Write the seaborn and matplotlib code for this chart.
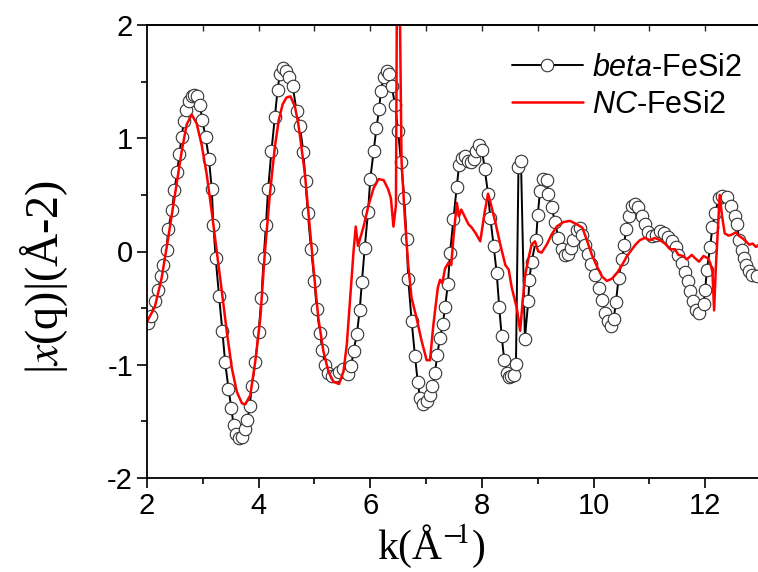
import numpy as np
import seaborn as sns
import matplotlib.pyplot as plt
from matplotlib.font_manager import FontProperties
from matplotlib.ticker import MultipleLocator

# beta-FeSi2 (open circles)
k_beta = [2.01, 2.07, 2.15, 2.20, 2.25, 2.29, 2.35, 2.38, 2.45, 2.49, 2.54, 2.58, 2.62, 2.66, 2.70,
          2.76, 2.81, 2.85, 2.89, 2.95, 2.99, 3.05, 3.11, 3.16, 3.19, 3.23, 3.29, 3.35, 3.40, 3.46,
          3.51, 3.55, 3.59, 3.65, 3.71, 3.76, 3.80, 3.84, 3.88, 3.94, 4.00, 4.05, 4.09, 4.13, 4.17,
          4.23, 4.29, 4.34, 4.38, 4.44, 4.49, 4.55, 4.61, 4.68, 4.74, 4.80, 4.84, 4.88, 4.94, 5.00,
          5.04, 5.10, 5.14, 5.19, 5.24, 5.31, 5.38, 5.44, 5.52, 5.60, 5.66, 5.70, 5.76, 5.81, 5.85,
          5.90, 5.96, 6.00, 6.06, 6.11, 6.16, 6.19, 6.24, 6.30, 6.34, 6.385, 6.445, 6.50, 6.55, 6.61,
          6.65, 6.68, 6.74, 6.80, 6.85, 6.89, 6.95, 7.01, 7.07, 7.11, 7.16, 7.20, 7.25, 7.30, 7.34,
          7.39, 7.43, 7.49, 7.55, 7.59, 7.64, 7.70, 7.75, 7.81, 7.85, 7.89, 7.95, 8.00, 8.05, 8.11,
          8.15, 8.21, 8.265, 8.31, 8.355, 8.40, 8.45, 8.49, 8.53, 8.57, 8.61, 8.655, 8.70, 8.77, 8.83,
          8.85, 8.89, 8.97, 9.00, 9.04, 9.10, 9.16, 9.19, 9.25, 9.31, 9.37, 9.43, 9.48, 9.54, 9.60,
          9.64, 9.70, 9.76, 9.80, 9.85, 9.90, 9.96, 10.03, 10.10, 10.16, 10.21, 10.26, 10.32, 10.36,
          10.40, 10.45, 10.51, 10.55, 10.58, 10.63, 10.68, 10.75, 10.80, 10.87, 10.93, 10.98, 11.04,
          11.12, 11.19, 11.27, 11.33, 11.40, 11.47, 11.52, 11.59, 11.64, 11.69, 11.73, 11.78, 11.83,
          11.89, 11.97, 12.00, 12.03, 12.09, 12.13, 12.18, 12.24, 12.30, 12.39, 12.47, 12.53, 12.57,
          12.61, 12.66, 12.69, 12.73, 12.78, 12.84, 12.93]
chi_beta = [-0.63, -0.57, -0.44, -0.34, -0.22, -0.12, 0.01, 0.20, 0.37, 0.54, 0.70, 0.86, 1.01, 1.15, 1.25,
            1.33, 1.37, 1.38, 1.37, 1.29, 1.16, 1.01, 0.82, 0.55, 0.23, -0.06, -0.39, -0.70, -0.98, -1.21,
            -1.38, -1.53, -1.61, -1.65, -1.64, -1.57, -1.49, -1.36, -1.19, -0.98, -0.71, -0.41, -0.06, 0.23, 0.55,
            0.89, 1.19, 1.43, 1.57, 1.62, 1.59, 1.54, 1.46, 1.24, 1.11, 0.88, 0.62, 0.34, 0.02, -0.26,
            -0.51, -0.72, -0.87, -1.00, -1.07, -1.10, -1.09, -1.06, -1.04, -1.08, -1.01, -0.88, -0.73, -0.52, -0.27,
            0.03, 0.35, 0.64, 0.89, 1.09, 1.26, 1.42, 1.54, 1.59, 1.57, 1.46, 1.29, 1.06, 0.79, 0.47,
            0.11, -0.24, -0.61, -0.92, -1.15, -1.29, -1.35, -1.32, -1.27, -1.19, -1.07, -0.91, -0.76, -0.64, -0.49,
            -0.29, -0.01, 0.29, 0.57, 0.76, 0.83, 0.84, 0.80, 0.79, 0.82, 0.89, 0.94, 0.90, 0.73, 0.51,
            0.30, 0.05, -0.19, -0.49, -0.75, -0.96, -1.07, -1.11, -1.10, -1.09, -0.99, 0.75, 0.80, -0.77, -0.44,
            -0.25, -0.09, 0.10, 0.32, 0.53, 0.64, 0.63, 0.51, 0.39, 0.26, 0.12, 0.02, -0.03, -0.02, 0.03,
            0.10, 0.19, 0.21, 0.15, 0.06, -0.02, -0.11, -0.21, -0.32, -0.43, -0.54, -0.61, -0.66, -0.60,
            -0.45, -0.23, -0.07, 0.06, 0.20, 0.31, 0.40, 0.42, 0.39, 0.31, 0.24, 0.17, 0.14,
            0.15, 0.18, 0.16, 0.13, 0.09, 0.04, -0.03, -0.10, -0.18, -0.26, -0.35, -0.44, -0.52,
            -0.54, -0.46, -0.34, -0.16, 0.04, 0.22, 0.34, 0.47, 0.49, 0.48, 0.40, 0.31, 0.24,
            0.10, 0.01, -0.06, -0.12, -0.17, -0.21, -0.22]

# NC-FeSi2 (red line)
k_nc = [2.00, 2.14, 2.26, 2.38, 2.50, 2.62, 2.71, 2.80, 2.89, 2.98, 3.07, 3.16, 3.25, 3.34, 3.43,
        3.52, 3.61, 3.70, 3.76, 3.85, 3.94, 4.03, 4.11, 4.20, 4.29, 4.36, 4.43, 4.50, 4.57, 4.65,
        4.71, 4.77, 4.83, 4.89, 4.95, 5.01, 5.07, 5.16, 5.25, 5.34, 5.44, 5.52, 5.58, 5.64, 5.70,
        5.74, 5.78, 5.88, 5.97, 6.06, 6.15, 6.24, 6.32, 6.37, 6.415, 6.46, 6.48, 6.52, 6.56, 6.62,
        6.68, 6.74, 6.83, 6.92, 7.01, 7.07, 7.13, 7.21, 7.25, 7.29, 7.34, 7.40, 7.45, 7.49, 7.55,
        7.59, 7.63, 7.67, 7.76, 7.82, 7.89, 7.97, 8.05, 8.11, 8.165, 8.24, 8.33, 8.42, 8.48, 8.535,
        8.625, 8.685, 8.73, 8.775, 8.835, 8.89, 8.95, 9.01, 9.07, 9.16, 9.25, 9.34, 9.46, 9.58, 9.70,
        9.80, 9.88, 9.97, 10.06, 10.15, 10.24, 10.33, 10.42, 10.51, 10.60, 10.66, 10.75, 10.83, 10.92,
        11.01, 11.10, 11.19, 11.28, 11.37, 11.46, 11.52, 11.61, 11.67, 11.76, 11.82, 11.89, 11.97,
        12.05, 12.09, 12.13, 12.16, 12.19, 12.26, 12.30, 12.35, 12.42, 12.48, 12.55, 12.60, 12.66,
        12.73, 12.79, 12.85, 12.91, 12.96]
chi_nc = [-0.62, -0.49, -0.24, 0.12, 0.50, 0.88, 1.12, 1.21, 1.13, 0.94, 0.68, 0.35, 0.00, -0.35, -0.71,
          -1.03, -1.24, -1.34, -1.35, -1.27, -0.97, -0.59, -0.02, 0.50, 0.92, 1.16, 1.30, 1.36, 1.37, 1.28,
          1.13, 0.91, 0.68, 0.35, 0.03, -0.29, -0.59, -0.88, -1.06, -1.15, -1.17, -1.06, -0.82, -0.41, 0.00,
          0.22, 0.05, 0.22, 0.41, 0.56, 0.64, 0.63, 0.55, 0.47, 0.22, 0.41, 2.60, 2.60, 0.80, 0.29,
          -0.12, -0.41, -0.59, -0.79, -0.96, -0.96, -0.65, -0.32, -0.25, -0.28, -0.15, -0.10, -0.12, 0.12, 0.43,
          0.31, 0.37, 0.33, 0.24, 0.21, 0.16, 0.09, 0.35, 0.51, 0.41, 0.26, 0.06, -0.12, -0.16, -0.32,
          -0.50, -0.70, -0.44, -0.21, -0.06, 0.06, 0.09, 0.00, -0.01, 0.06, 0.15, 0.22, 0.26, 0.27, 0.24,
          0.21, 0.10, -0.03, -0.13, -0.22, -0.26, -0.24, -0.19, -0.12, -0.04, 0.00, 0.06, 0.10, 0.12,
          0.10, 0.12, 0.10, 0.07, 0.02, 0.02, -0.03, -0.04, -0.07, -0.03, -0.06, -0.09, -0.04,
          -0.06, -0.10, -0.18, -0.52, -0.15, 0.50, 0.32, 0.16, 0.14, 0.15, 0.17, 0.14, 0.12,
          0.09, 0.06, 0.07, 0.04, 0.06]

sns.set_style('ticks')
plt.rcParams['font.family'] = ['Liberation Sans', 'DejaVu Sans']
plt.rcParams['mathtext.fontset'] = 'custom'
plt.rcParams['mathtext.it'] = 'Liberation Sans:italic'
plt.rcParams['mathtext.rm'] = 'Liberation Sans'
plt.rcParams['axes.unicode_minus'] = False
plt.rcParams['text.color'] = 'black'
plt.rcParams['axes.labelcolor'] = 'black'

fig = plt.figure(figsize=(7.58, 5.72), dpi=100)
ax = fig.add_axes([147 / 758, 1 - 478 / 572, 614 / 758, 453 / 572])

sns.lineplot(x=k_beta, y=chi_beta, ax=ax, color='black', lw=1.4, marker='o', markersize=9,
             markerfacecolor='white', markeredgecolor='#333333', markeredgewidth=0.8,
             label=r'$\it{beta}$-FeSi2')
sns.lineplot(x=k_nc, y=chi_nc, ax=ax, color='#ff0000', lw=1.8, label=r'$\it{NC}$-FeSi2')

ax.set_xlim(2, 13)
ax.set_ylim(-2, 2)
ax.xaxis.set_major_locator(MultipleLocator(2))
ax.xaxis.set_minor_locator(MultipleLocator(1))
ax.yaxis.set_major_locator(MultipleLocator(1))
ax.yaxis.set_minor_locator(MultipleLocator(0.5))
ax.tick_params(which='major', direction='out', length=7, width=1.2, labelsize=21, pad=3,
               colors='black')
ax.tick_params(which='minor', direction='out', length=4, width=1.2, colors='black')
for s in ax.spines.values():
    s.set_linewidth(1.3)
    s.set_color('black')

top = ax.secondary_xaxis('top')
top.set_xticks(np.arange(3, 13))
top.tick_params(direction='in', length=4, width=1.0, labeltop=False)
top.spines['top'].set_linewidth(1.3)

ax.set_xlabel(r'k(Å$^{\mathrm{-\!\!1}}$)',
              fontproperties=FontProperties(family='Liberation Serif', size=30, math_fontfamily='stix'))
ax.set_ylabel(r'|$x$(q)|(Å-2)',
              fontproperties=FontProperties(family='Liberation Serif', size=33, math_fontfamily='stix'))
ax.xaxis.set_label_coords(0.464, -0.1)
ax.yaxis.set_label_coords(-0.125, 0.444)

leg_font = FontProperties(family='Liberation Sans', size=22, math_fontfamily='custom')
ax.legend(loc='upper left', bbox_to_anchor=(0.575, 0.965), frameon=False, prop=leg_font,
          handlelength=2.3, handletextpad=0.3, labelspacing=0.22, borderaxespad=0)

fig.savefig('out.png', dpi=100)
